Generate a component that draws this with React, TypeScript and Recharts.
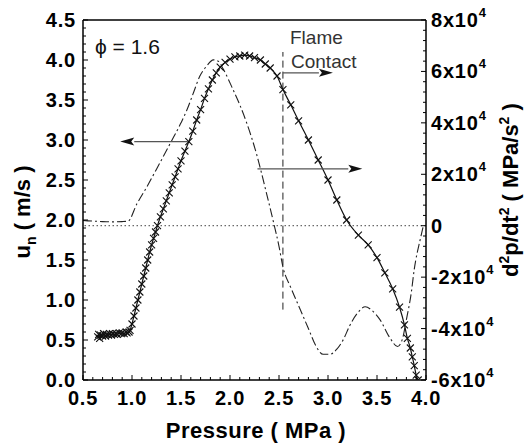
import { ComposedChart, Line, XAxis, YAxis, ReferenceLine } from 'recharts';

// u_n (m/s) vs pressure (MPa), solid line with x markers
const pressureUn = [
  0.65, 0.66, 0.67, 0.68, 0.70, 0.71, 0.73, 0.74, 0.76, 0.77, 0.79, 0.80, 0.82, 0.84, 0.85, 0.87, 0.89, 0.90,
  0.92, 0.94, 0.95, 0.97, 0.98, 1.00, 1.02, 1.04, 1.06, 1.08, 1.10, 1.12, 1.14, 1.16, 1.18, 1.20, 1.22, 1.24,
  1.26, 1.29, 1.32, 1.35, 1.38, 1.41, 1.44, 1.47, 1.50, 1.54, 1.58, 1.62, 1.66, 1.70, 1.74, 1.78, 1.82, 1.86,
  1.90, 1.95, 2.00, 2.05, 2.10, 2.15, 2.20, 2.25, 2.31, 2.36, 2.41, 2.48, 2.54, 2.62, 2.70, 2.80, 2.90, 3.00,
  3.09, 3.19, 3.31, 3.41, 3.50, 3.58, 3.66, 3.73, 3.78, 3.81, 3.84, 3.86, 3.88, 3.90, 3.92,
];
const unValues = [
  0.54, 0.57, 0.52, 0.56, 0.55, 0.58, 0.55, 0.57, 0.56, 0.58, 0.56, 0.58, 0.57, 0.58, 0.57, 0.59, 0.58, 0.59,
  0.58, 0.60, 0.59, 0.60, 0.62, 0.70, 0.80, 0.90, 1.00, 1.10, 1.20, 1.30, 1.40, 1.50, 1.60, 1.69, 1.77, 1.85,
  1.93, 2.04, 2.14, 2.24, 2.34, 2.44, 2.54, 2.64, 2.74, 2.86, 2.98, 3.11, 3.25, 3.38, 3.52, 3.64, 3.75, 3.84,
  3.91, 3.97, 4.01, 4.04, 4.05, 4.06, 4.05, 4.03, 4.00, 3.95, 3.90, 3.80, 3.63, 3.44, 3.24, 3.00, 2.75, 2.50,
  2.25, 2.00, 1.81, 1.69, 1.53, 1.34, 1.14, 0.91, 0.69, 0.52, 0.40, 0.29, 0.18, 0.06, 0.00,
];

// d2p/dt2 (MPa/s^2) vs pressure (MPa), dash-dot line on right axis
const pressureD2p = [
  0.50, 0.60, 0.70, 0.80, 0.90, 0.96, 1.05, 1.15, 1.25, 1.39, 1.50, 1.56, 1.63, 1.69, 1.76, 1.83, 1.88, 1.93,
  2.03, 2.10, 2.17, 2.27, 2.37, 2.44, 2.50, 2.54, 2.62, 2.71, 2.80, 2.88, 2.95, 3.02, 3.09, 3.16, 3.22, 3.30,
  3.38, 3.45, 3.53, 3.63, 3.71, 3.76, 3.80, 3.85, 3.88, 3.94, 3.97,
];
const d2pValues = [
  2000, 1800, 1600, 1500, 1600, 1800, 8500, 15000, 22000, 32000, 40000, 45000, 52000, 58000, 62000, 64500, 64000, 61000,
  53000, 47000, 40000, 28000, 13000, 2000, -8000, -16000, -24000, -32000, -40000, -47000, -50000, -50000, -48000, -44000, -39000, -34000,
  -31500, -33000, -36500, -43500, -47000, -44000, -36500, -26000, -17000, -5500, -500,
];

const xMajorTicks = [0.5, 1.0, 1.5, 2.0, 2.5, 3.0, 3.5, 4.0];
const unMajorTicks = [0, 0.5, 1.0, 1.5, 2.0, 2.5, 3.0, 3.5, 4.0, 4.5];
const d2pMajorTicks = [-60000, -40000, -20000, 0, 20000, 40000, 60000, 80000];

const steps = (a: number, b: number, s: number) =>
  Array.from({ length: Math.round((b - a) / s) + 1 }, (_, i) => Math.round((a + i * s) * 1000) / 1000);

const xTicks = steps(0.5, 4.0, 0.1);
const unTicks = steps(0, 4.5, 0.1);
const d2pTicks = steps(-60000, 80000, 4000);

const unData = pressureUn.map((p, i) => ({ p, u: unValues[i] }));
const d2pData = pressureD2p.map((p, i) => ({ p, d: d2pValues[i] }));

const FONT = '"Liberation Sans", Arial, sans-serif';
const isMajor = (v: number, list: number[]) => list.some((m) => Math.abs(m - v) < 1e-6);

const BottomTick = (props: any) => {
  const { x, y, payload } = props;
  const major = isMajor(payload.value, xMajorTicks);
  const axisY = y - 8;
  return (
    <g>
      <line x1={x} x2={x} y1={axisY} y2={axisY - (major ? 5 : 3)} stroke="#000" strokeWidth={1} />
      {major && (
        <text x={x} y={axisY + 25} textAnchor="middle" fontFamily={FONT} fontWeight="bold" fontSize={20} letterSpacing={0.8} fill="#000">
          {payload.value.toFixed(1)}
        </text>
      )}
    </g>
  );
};

const LeftTick = (props: any) => {
  const { x, y, payload } = props;
  const major = isMajor(payload.value, unMajorTicks);
  const axisX = x + 7;
  return (
    <g>
      <line x1={axisX} x2={axisX + (major ? 5 : 3)} y1={y} y2={y} stroke="#000" strokeWidth={1} />
      {major && (
        <text x={x} y={y + 7} textAnchor="end" fontFamily={FONT} fontWeight="bold" fontSize={20} letterSpacing={0.8} fill="#000">
          {payload.value.toFixed(1)}
        </text>
      )}
    </g>
  );
};

const RightTick = (props: any) => {
  const { x, y, payload } = props;
  const major = isMajor(payload.value, d2pMajorTicks);
  const axisX = x - 5;
  const v = payload.value / 10000;
  return (
    <g>
      <line x1={axisX} x2={axisX - (major ? 5 : 3)} y1={y} y2={y} stroke="#000" strokeWidth={1} />
      {major && (
        <text x={x} y={y + 7} textAnchor="start" fontFamily={FONT} fontWeight="bold" fontSize={20} letterSpacing={0.8} fill="#000">
          {v === 0 ? '0' : `${v}x10`}
          {v !== 0 && <tspan dy={-10} fontSize={13}>4</tspan>}
        </text>
      )}
    </g>
  );
};

const XMark = (props: any) => {
  const { cx, cy, index } = props;
  if (cx == null || cy == null) return <g key={index} />;
  const s = 3.5;
  return (
    <path
      key={index}
      d={`M${cx - s},${cy - s}L${cx + s},${cy + s}M${cx - s},${cy + s}L${cx + s},${cy - s}`}
      stroke="#111"
      strokeWidth={1.1}
      fill="none"
    />
  );
};

const Arrow = (props: any) => {
  const { x1, y1, x2, y2 } = props;
  const dx = x2 - x1;
  const dy = y2 - y1;
  const len = Math.hypot(dx, dy) || 1;
  const ux = dx / len;
  const uy = dy / len;
  const hl = 14;
  const hw = 4;
  const bx = x2 - ux * hl;
  const by = y2 - uy * hl;
  return (
    <g>
      <line x1={x1} y1={y1} x2={bx} y2={by} stroke="#555" strokeWidth={1.2} />
      <polygon
        points={`${x2},${y2} ${bx - uy * hw},${by + ux * hw} ${bx + ux * 3},${by + uy * 3} ${bx + uy * hw},${by - ux * hw}`}
        fill="#111"
      />
    </g>
  );
};

export default function App() {
  return (
    <div style={{ position: 'absolute', left: 0, top: 0, width: 525, height: 447, background: '#fff' }}>
      <ComposedChart width={525} height={447} margin={{ top: 20, right: 0, bottom: 0, left: 0 }}>
        <XAxis
          dataKey="p"
          type="number"
          domain={[0.5, 4.0]}
          ticks={xTicks}
          interval={0}
          allowDataOverflow
          height={67}
          tickSize={0}
          tickMargin={8}
          tick={<BottomTick />}
          axisLine={{ stroke: '#000', strokeWidth: 1.5 }}
        />
        <YAxis
          yAxisId="left"
          type="number"
          domain={[0, 4.5]}
          ticks={unTicks}
          interval={0}
          allowDataOverflow
          width={83}
          tickSize={0}
          tickMargin={7}
          tick={<LeftTick />}
          axisLine={{ stroke: '#000', strokeWidth: 1.5 }}
        />
        <YAxis
          yAxisId="right"
          orientation="right"
          type="number"
          domain={[-60000, 80000]}
          ticks={d2pTicks}
          interval={0}
          allowDataOverflow
          width={99}
          tickSize={0}
          tickMargin={5}
          tick={<RightTick />}
          axisLine={{ stroke: '#000', strokeWidth: 1.5 }}
        />
        <ReferenceLine yAxisId="left" y={4.5} stroke="#000" strokeWidth={1.5} ifOverflow="visible" />
        <ReferenceLine yAxisId="right" y={0} stroke="#444" strokeWidth={1} strokeDasharray="1.5 2.5" />
        <ReferenceLine
          yAxisId="left"
          segment={[{ x: 2.54, y: 0.88 }, { x: 2.54, y: 4.1 }]}
          stroke="#222"
          strokeWidth={1}
          strokeDasharray="7 4"
        />
        <Line
          yAxisId="right"
          data={d2pData}
          dataKey="d"
          type="monotone"
          stroke="#222"
          strokeWidth={1.1}
          strokeDasharray="9 3 2 3"
          dot={false}
          isAnimationActive={false}
        />
        <Line
          yAxisId="left"
          data={unData}
          dataKey="u"
          type="monotone"
          stroke="#111"
          strokeWidth={1.2}
          dot={XMark}
          isAnimationActive={false}
        />
        <ReferenceLine yAxisId="left" segment={[{ x: 1.57, y: 2.98 }, { x: 0.88, y: 2.98 }]} shape={Arrow} />
        <ReferenceLine yAxisId="left" segment={[{ x: 2.28, y: 2.64 }, { x: 3.35, y: 2.64 }]} shape={Arrow} />
        <ReferenceLine yAxisId="left" segment={[{ x: 2.54, y: 3.84 }, { x: 3.05, y: 3.84 }]} shape={Arrow} />
      </ComposedChart>
      <svg width={525} height={447} style={{ position: 'absolute', left: 0, top: 0, pointerEvents: 'none' }}>
        <text x={95} y={54} fontFamily={FONT} fontSize={21} fill="#111">ϕ = 1.6</text>
        <text x={290} y={44} fontFamily={FONT} fontSize={19} fill="#333">Flame</text>
        <text x={291} y={68} fontFamily={FONT} fontSize={19} fill="#333">Contact</text>
        <text x={256} y={438} textAnchor="middle" fontFamily={FONT} fontWeight="bold" fontSize={22} letterSpacing={0.5} fill="#000">
          Pressure ( MPa )
        </text>
        <text transform="translate(30,212) rotate(-90)" textAnchor="middle" fontFamily={FONT} fontWeight="bold" fontSize={22} fill="#000">
          u<tspan dy={6} fontSize={14}>n</tspan>
          <tspan dy={-6}> ( m/s )</tspan>
        </text>
        <text transform="translate(518,190) rotate(-90)" textAnchor="middle" fontFamily={FONT} fontWeight="bold" fontSize={22} fill="#000">
          d<tspan dy={-9} fontSize={14}>2</tspan>
          <tspan dy={9}>p/dt</tspan>
          <tspan dy={-9} fontSize={14}>2</tspan>
          <tspan dy={9}> ( MPa/s</tspan>
          <tspan dy={-9} fontSize={14}>2</tspan>
          <tspan dy={9}> )</tspan>
        </text>
      </svg>
    </div>
  );
}
